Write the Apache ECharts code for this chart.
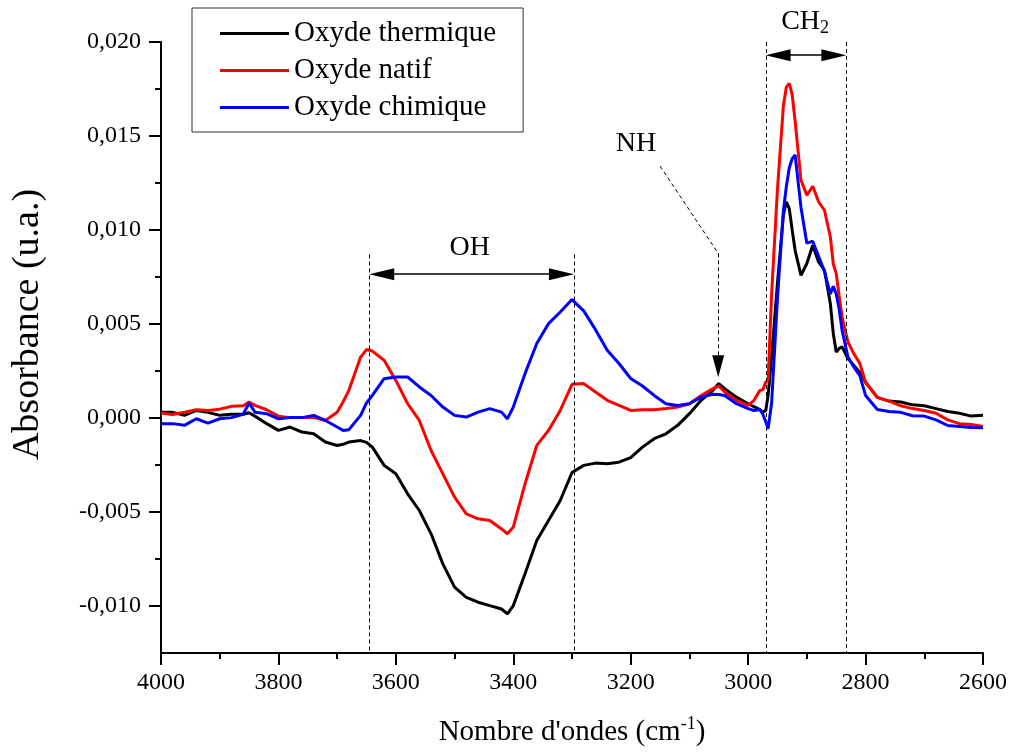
<!DOCTYPE html>
<html>
<head>
<meta charset="utf-8">
<script src="https://cdn.jsdelivr.net/npm/echarts@6/dist/echarts.min.js"></script>
<style>
  html, body { margin: 0; padding: 0; background: #fff; }
  #chart { width: 1010px; height: 753px; }
</style>
</head>
<body>
<div id="chart"></div>
<script>
// FTIR absorbance spectra (cm-1) of three oxide surfaces
const wavenumbers = [
  4000, 3980, 3960, 3940, 3920, 3900, 3880, 3860, 3850, 3840,
  3820, 3800, 3780, 3760, 3740, 3720, 3700, 3690, 3680, 3660,
  3650, 3640, 3620, 3600, 3580, 3560, 3540, 3520, 3500, 3480,
  3460, 3440, 3420, 3410, 3400, 3380, 3360, 3340, 3320, 3300,
  3280, 3260, 3240, 3220, 3200, 3180, 3160, 3140, 3120, 3100,
  3080, 3060, 3050, 3040, 3020, 3000, 2990, 2980, 2975, 2970,
  2966, 2960, 2950, 2940, 2935, 2930, 2925, 2920, 2910, 2900,
  2890, 2880, 2870, 2860, 2855, 2850, 2845, 2840, 2830, 2820,
  2810, 2800, 2780, 2760, 2740, 2720, 2700, 2680, 2660, 2640,
  2620, 2600
];

const oxydeThermique = [
  0.0003, 0.0003, 0.00014, 0.0004, 0.0003, 0.00014, 0.0002, 0.0002, 0.00028, 0.0001,
  -0.0003, -0.00066, -0.00048, -0.00075, -0.00084, -0.00128, -0.00146, -0.0014, -0.00128, -0.0012,
  -0.0013, -0.00155, -0.00252, -0.00297, -0.00403, -0.00492, -0.00616, -0.00776, -0.009, -0.00954,
  -0.0098, -0.00998, -0.01016, -0.01042, -0.00998, -0.00829, -0.00652, -0.00545, -0.00439, -0.0029,
  -0.00252, -0.0024, -0.00243, -0.00235, -0.00211, -0.00155, -0.0011, -0.00084, -0.00039, 0.00023,
  0.00094, 0.00147, 0.00183, 0.00156, 0.00111, 0.00076, 0.0006, 0.00045, 0.0003, 0.0004,
  0.0012, 0.00324, 0.0072, 0.0108, 0.0115, 0.01114, 0.0100, 0.00892, 0.00759, 0.00822,
  0.00919, 0.0083, 0.00786, 0.00609, 0.0045, 0.00351, 0.0037, 0.00378, 0.00316, 0.0028,
  0.00244, 0.0019, 0.0011, 0.0009, 0.00085, 0.0007, 0.00065, 0.0005, 0.00035, 0.00025,
  0.0001, 0.00015
];

const oxydeNatif = [
  0.00026, 0.00019, 0.00031, 0.00044, 0.0004, 0.00047, 0.00062, 0.00065, 0.00085, 0.00067,
  0.00044, 0.0001, 0.00002, 0.00002, 0.00002, -0.00013, 0.00031, 0.00085, 0.00147, 0.00324,
  0.00364, 0.00356, 0.00307, 0.002, 0.00076, -0.00013, -0.00173, -0.00297, -0.00421, -0.0051,
  -0.00536, -0.00545, -0.0059, -0.00616, -0.0058, -0.0035, -0.00146, -0.00066, 0.0004, 0.00179,
  0.00183, 0.00138, 0.00094, 0.00067, 0.0004, 0.00044, 0.00044, 0.0005, 0.00058, 0.00076,
  0.0012, 0.00156, 0.0017, 0.00138, 0.00094, 0.00067, 0.00094, 0.00147, 0.0015, 0.00191,
  0.002, 0.0066, 0.0122, 0.0166, 0.0176, 0.0178, 0.0172, 0.0158, 0.01265, 0.01185,
  0.01233, 0.0115, 0.01105, 0.00963, 0.0082, 0.00768, 0.0065, 0.00537, 0.00404, 0.00342,
  0.00292, 0.0019, 0.0011, 0.0009, 0.00065, 0.0005, 0.0004, 0.00025, -0.0001, -0.0003,
  -0.00035, -0.00045
];

const oxydeChimique = [
  -0.0003, -0.0003, -0.00039, -0.00004, -0.00027, -0.00004, 0.00002, 0.0002, 0.0008, 0.00031,
  0.00023, -0.00004, 0.00002, 0.00002, 0.00014, -0.00013, -0.00048, -0.00066, -0.00062, 0.00014,
  0.0008, 0.0012, 0.00209, 0.00218, 0.00218, 0.00165, 0.0012, 0.00058, 0.00014, 0.00005,
  0.00031, 0.0005, 0.00031, -0.00004, 0.00058, 0.00236, 0.00396, 0.00502, 0.00564, 0.0063,
  0.0057, 0.0047, 0.0036, 0.0029, 0.0021, 0.0017, 0.0012, 0.00076, 0.00067, 0.00076,
  0.00111, 0.00126, 0.00125, 0.0012, 0.00076, 0.0005, 0.0004, 0.00045, 0.0002, -0.0002,
  -0.00057, 0.0008, 0.0064, 0.0110, 0.0123, 0.0133, 0.0138, 0.0140, 0.0112, 0.0093,
  0.0094, 0.0086, 0.0078, 0.0066, 0.0070, 0.0066, 0.0058, 0.00466, 0.00324, 0.00271,
  0.00227, 0.0012, 0.00045, 0.00035, 0.0003, 0.00012, 0.0001, -0.0001, -0.0004, -0.00045,
  -0.0005, -0.00052
];

const seriesNames = ['Oxyde thermique', 'Oxyde natif', 'Oxyde chimique'];
const seriesColors = ['#000000', '#ff0000', '#0000ff'];

// axis ticks
const yMajorTicks = [-0.010, -0.005, 0.000, 0.005, 0.010, 0.015, 0.020];
const yMinorTicks = [-0.0075, -0.0025, 0.0025, 0.0075, 0.0125, 0.0175];

// band annotations (wavenumber limits)
const ohBand = [3645, 3297];
const ch2Band = [2970, 2833];
const nhPeak = 3051;

const FONT = '"Liberation Serif", "Times New Roman", Times, serif';
const fmtAbs = v => (v < -1e-9 ? '-' : '') + Math.abs(v).toFixed(3).replace('.', ',');

const pairs = values => wavenumbers.map((w, i) => [w, values[i]]);

const dashed = { color: '#000', width: 1, type: [4, 3] };
const solid = { color: '#000', width: 1.5, type: 'solid' };
// arrowheads: tip sits on the band limit, so the head centre is set half a head inside
const headHalf = 21;          // cm-1, half of a 25 px arrowhead
const nhHeadHalf = 0.00059;   // absorbance, half of a 22 px arrowhead

const chart = echarts.init(document.getElementById('chart'), null, { renderer: 'canvas' });

const option = {
  animation: false,
  backgroundColor: '#ffffff',
  grid: { left: 161, right: 27, top: 42, bottom: 100 },
  legend: {
    orient: 'vertical',
    left: 192,
    top: 8,
    icon: 'rect',
    itemWidth: 69,
    itemHeight: 3,
    itemGap: 8,
    padding: [11, 27, 10, 28],
    borderColor: '#333',
    borderWidth: 1,
    textStyle: { fontFamily: FONT, fontSize: 29, color: '#000' },
    data: seriesNames
  },
  xAxis: {
    type: 'value',
    inverse: true,
    min: 2600,
    max: 4000,
    interval: 200,
    position: 'bottom',
    axisLine: { onZero: false, lineStyle: { color: '#000', width: 2 } },
    axisTick: { length: 12, lineStyle: { color: '#000', width: 2 } },
    minorTick: { show: true, splitNumber: 2, length: 6, lineStyle: { color: '#000', width: 2 } },
    splitLine: { show: false },
    minorSplitLine: { show: false },
    axisLabel: { fontFamily: FONT, fontSize: 24, color: '#000', margin: 18, formatter: v => String(v) },
    name: "{t|Nombre d'ondes (cm}{s|-1}{t|)}",
    nameLocation: 'middle',
    nameGap: 62,
    nameTextStyle: {
      rich: {
        t: { fontFamily: FONT, fontSize: 29, color: '#000' },
        s: { fontFamily: FONT, fontSize: 18, color: '#000', padding: [0, 0, 16, 0] }
      }
    }
  },
  yAxis: [
    {
      type: 'value',
      min: -0.0125,
      max: 0.020,
      position: 'left',
      axisLine: { onZero: false, lineStyle: { color: '#000', width: 2 } },
      axisTick: { length: 12, customValues: yMajorTicks, lineStyle: { color: '#000', width: 2 } },
      splitLine: { show: false },
      axisLabel: {
        customValues: yMajorTicks,
        fontFamily: FONT, fontSize: 24, color: '#000', margin: 20,
        formatter: fmtAbs
      },
      name: 'Absorbance (u.a.)',
      nameLocation: 'middle',
      nameGap: 114,
      nameTextStyle: { fontFamily: FONT, fontSize: 38, color: '#000', padding: [0, 0, 0, 46] }
    },
    {
      type: 'value',
      min: -0.0125,
      max: 0.020,
      position: 'left',
      axisLine: { show: false, onZero: false },
      axisTick: { length: 6, customValues: yMinorTicks, lineStyle: { color: '#000', width: 2 } },
      axisLabel: { show: false },
      splitLine: { show: false }
    }
  ],
  series: [
    ...[oxydeThermique, oxydeNatif, oxydeChimique].map((vals, i) => ({
      name: seriesNames[i],
      type: 'line',
      data: pairs(vals),
      symbol: 'none',
      showSymbol: false,
      color: seriesColors[i],
      lineStyle: { color: seriesColors[i], width: 3 },
      z: 3 + i
    })),
    {
      name: 'annotations',
      type: 'line',
      data: [],
      clip: false,
      silent: true,
      z: 10,
      markLine: {
        silent: true,
        animation: false,
        symbol: ['none', 'none'],
        label: { show: false },
        lineStyle: dashed,
        data: [
          // OH band limits
          [{ coord: [ohBand[0], 0.0087] }, { coord: [ohBand[0], -0.0125] }],
          [{ coord: [ohBand[1], 0.0087] }, { coord: [ohBand[1], -0.0125] }],
          // CH2 band limits
          [{ coord: [ch2Band[0], 0.020] }, { coord: [ch2Band[0], -0.0125] }],
          [{ coord: [ch2Band[1], 0.020] }, { coord: [ch2Band[1], -0.0125] }],
          // OH double arrow
          [{ coord: [ohBand[0] - headHalf, 0.00765], symbol: 'triangle', symbolSize: [12, 25] },
           { coord: [ohBand[1] + headHalf, 0.00765], symbol: 'triangle', symbolSize: [12, 25], lineStyle: solid }],
          // CH2 double arrow
          [{ coord: [ch2Band[0] - headHalf, 0.0193], symbol: 'triangle', symbolSize: [12, 25] },
           { coord: [ch2Band[1] + headHalf, 0.0193], symbol: 'triangle', symbolSize: [12, 25], lineStyle: solid }],
          // NH leader
          [{ coord: [3150, 0.0134] }, { coord: [nhPeak, 0.00876] }],
          [{ coord: [nhPeak, 0.00876] },
           { coord: [nhPeak, 0.00216 + nhHeadHalf], symbol: 'triangle', symbolSize: [12, 22] }]
        ]
      },
      markPoint: {
        silent: true,
        animation: false,
        symbol: 'circle',
        symbolSize: 1,
        itemStyle: { color: 'rgba(0,0,0,0)' },
        label: {
          show: true,
          position: 'inside',
          fontFamily: FONT,
          fontSize: 28,
          color: '#000'
        },
        data: [
          { coord: [3474, 0.00908], label: { formatter: 'OH' } },
          { coord: [3191, 0.01462], label: { formatter: 'NH' } }
        ]
      }
    }
  ]
};

chart.setOption(option);

// CH2 label sits above the plot frame, placed through the grid's own scale
const ch2Pos = chart.convertToPixel({ gridIndex: 0 }, [2903, 0.0211]);
chart.setOption({
  graphic: [{
    type: 'text',
    x: ch2Pos[0],
    y: ch2Pos[1],
    silent: true,
    style: {
      text: '{a|CH}{b|2}',
      align: 'center',
      verticalAlign: 'middle',
      rich: {
        a: { fontFamily: FONT, fontSize: 28, fill: '#000' },
        b: { fontFamily: FONT, fontSize: 18, fill: '#000', padding: [14, 0, 0, 0] }
      }
    }
  }]
});
</script>
</body>
</html>
